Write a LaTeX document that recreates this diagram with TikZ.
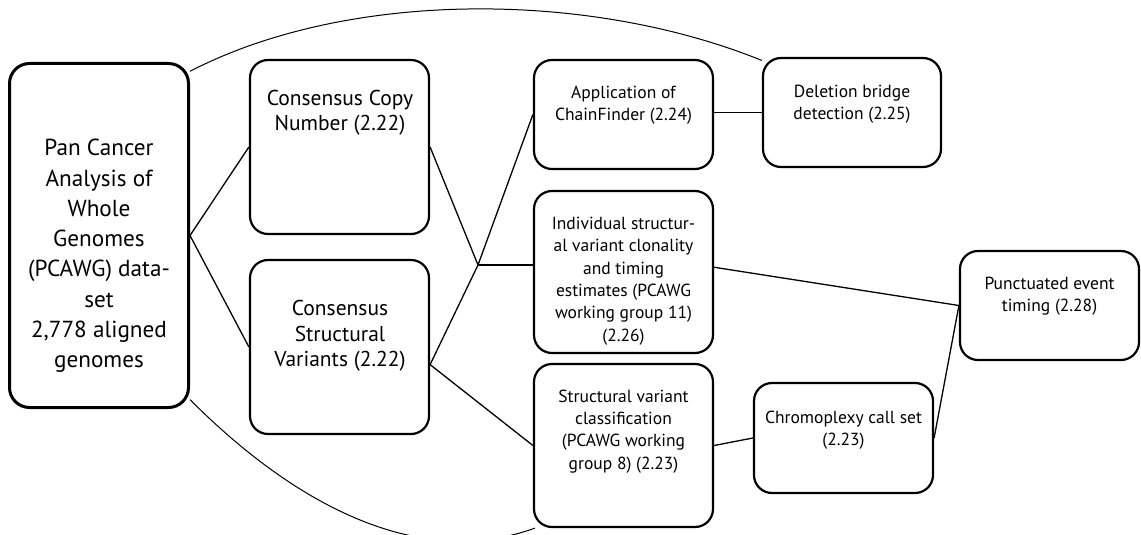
\documentclass[tikz,border=0pt]{standalone}
\usepackage{fontspec}
\setmainfont{PT Sans}
\usetikzlibrary{positioning}

\begin{document}
\begin{tikzpicture}[
    x=1pt,y=-1pt,
    every node/.style={align=center,text=black},
    box/.style={draw,line width=2.2pt,rounded corners=18pt,minimum width=179pt,inner sep=0pt},
    bigbox/.style={box,line width=3pt,rounded corners=20pt},
    txt/.style={font=\fontsize{17.5}{22.3}\selectfont},
    midtxt/.style={font=\fontsize{21.5}{25.5}\selectfont},
    bigtxt/.style={font=\fontsize{23.2}{30.3}\selectfont},
    link/.style={line width=1.3pt},
    arc/.style={line width=1pt}
]
\useasboundingbox (0,0) rectangle (1141,535);
% boxes
\node[bigbox,minimum height=344pt] (pcawg) at (99,235.5) {};
\node[box,minimum height=174pt] (ccn) at (339.5,147) {};
\node[box,minimum height=174pt] (csv) at (339.5,347) {};
\node[box,minimum height=109pt] (chain) at (623.5,114.5) {};
\node[box,minimum height=162pt] (indiv) at (623.5,272) {};
\node[box,minimum height=163pt] (svclass) at (623.5,445.5) {};
\node[box,minimum width=178pt,minimum height=109pt] (del) at (852,112.5) {};
\node[box,minimum height=110pt] (chromo) at (843.5,438) {};
\node[box,minimum height=109pt] (punct) at (1049.5,305.5) {};
% texts
\node[bigtxt] (pcawgtxt) at (99,256) {Pan Cancer\\Analysis of\\Whole\\Genomes\\(PCAWG) data-\\set\\2,778 aligned\\genomes};
\node[midtxt] (ccntxt) at (340,112.5) {Consensus Copy\\Number (2.22)};
\node[midtxt] (csvtxt) at (340,336) {Consensus\\Structural\\Variants (2.22)};
\node[txt] (chaintxt) at (623.5,105) {Application of\\ChainFinder (2.24)};
\node[txt] (indivtxt) at (623.5,281) {Individual structur-\\al variant clonality\\and timing\\estimates (PCAWG\\working group 11)\\(2.26)};
\node[txt] (svclasstxt) at (623.5,431.5) {Structural variant\\classification\\(PCAWG working\\group 8) (2.23)};
\node[txt] (deltxt) at (852,104) {Deletion bridge\\detection (2.25)};
\node[txt] (chromotxt) at (843.5,430) {Chromoplexy call set\\(2.23)};
\node[txt] (puncttxt) at (1049.5,296) {Punctuated event\\timing (2.28)};
% connectors
\coordinate (hub) at (478,265);
\draw[link] (pcawg.east) -- (ccn.west);
\draw[link] (pcawg.east) -- (csv.west);
\draw[link] (ccn.east) -- (hub);
\draw[link] (csv.-11) -- (hub);
\draw[link] (hub) -- (chain.west);
\draw[link] (hub) -- (hub -| indiv.west);
\draw[link] (csv.-11) -- (svclass.west);
\draw[link] (del.west -| chain.east) -- (del.west);
\draw[link] (indiv.3) -- (punct.west);
\draw[link] (svclass.east) -- (chromo.west);
\draw[link] (chromo.east) -- (punct.west);
% long arcs
\draw[arc] (pcawg.61) .. controls (347,-10) and (588,-10) .. (del.150);
\draw[arc] (pcawg.-61) .. controls +(110,110) and +(-113,41) .. (svclass.-137);
\end{tikzpicture}
\end{document}
